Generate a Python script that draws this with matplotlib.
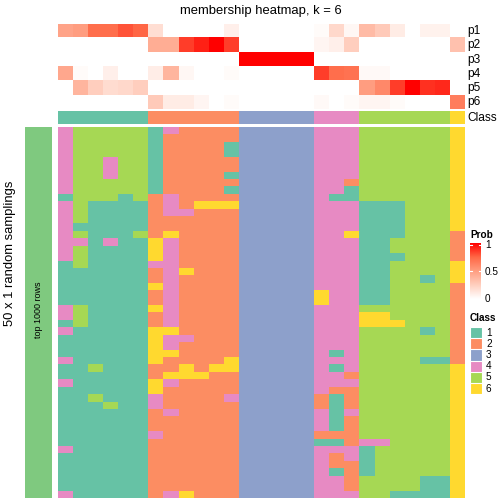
import numpy as np
import matplotlib
matplotlib.use("Agg")
import matplotlib.pyplot as plt
from matplotlib.colors import ListedColormap, LinearSegmentedColormap

plt.rcParams['font.family'] = ['Liberation Sans', 'DejaVu Sans']

# class of each sample (column) from the consensus
sample_class = [1, 1, 1, 1, 1, 1, 2, 2, 2, 2, 2, 2, 3, 3, 3, 3, 3, 4, 4, 4, 5, 5, 5, 5, 5, 5, 6]

# membership probabilities, one list per class
p1 = [0.47, 0.5, 0.72, 0.72, 0.8, 0.75, 0.17, 0, 0, 0, 0, 0.08, 0, 0, 0, 0, 0, 0.02, 0.2, 0.04, 0.35, 0.27, 0.1, 0, 0.07, 0.07, 0]
p2 = [0, 0, 0, 0, 0, 0, 0.42, 0.42, 0.85, 0.92, 1.0, 0.85, 0, 0, 0, 0, 0, 0.05, 0.08, 0.25, 0, 0, 0, 0, 0, 0, 0.32]
p3 = [0, 0, 0, 0, 0, 0, 0, 0, 0, 0, 0, 0, 1, 1, 1, 1, 1, 0, 0, 0, 0, 0, 0, 0, 0, 0, 0]
p4 = [0.45, 0.02, 0, 0.08, 0, 0, 0.09, 0.38, 0.04, 0, 0, 0.02, 0, 0, 0, 0, 0, 0.85, 0.72, 0.7, 0.03, 0.03, 0, 0, 0, 0, 0]
p5 = [0, 0.38, 0.25, 0.18, 0.2, 0.25, 0, 0, 0, 0, 0, 0, 0, 0, 0, 0, 0, 0, 0, 0, 0.5, 0.6, 0.85, 1.0, 0.88, 0.9, 0]
p6 = [0, 0, 0, 0, 0, 0, 0.27, 0.1, 0.1, 0.05, 0, 0.02, 0, 0, 0, 0, 0, 0.03, 0, 0.02, 0.05, 0.05, 0.02, 0, 0, 0, 0.65]
prob_names = ["p1", "p2", "p3", "p4", "p5", "p6"]

# class assigned in each of the 50 random samplings (one string per sampling)
samplings = [
    "455555142222333334445555556",
    "455555122222333334445555556",
    "455555122221333334445555556",
    "455555122221333334445555556",
    "455455122222333334445555556",
    "455455122222333334445555556",
    "455455122221333334445555556",
    "455555122222333334425555556",
    "455555122221333334415555556",
    "155515242222333334115555556",
    "451111242666333334441115556",
    "451111244222333334441115556",
    "451111222222333334441115556",
    "411111222222333334441115556",
    "451115262222333334461115552",
    "441411642222333334441155552",
    "451111642222333334441155552",
    "451111642222333334441115552",
    "151111442222333334441155556",
    "111111246222333334441155556",
    "111111242222333334441155156",
    "111111642222333334441155552",
    "111111242222333336441155552",
    "111111242222333336441155552",
    "451111642222333334445555552",
    "451111242222333334446655552",
    "151111242222333334446665552",
    "411111662222333334445555152",
    "111111644222333334445555552",
    "111111642222333334445555552",
    "111111662222333334145555552",
    "411111622226333334445555112",
    "115111226266333334145555556",
    "111111266622333334425555556",
    "411111642222333334445555556",
    "111111622222333334225555556",
    "115111422224333332125555556",
    "111511422222333332125555556",
    "111111242222333334145555556",
    "111111222222333334125555556",
    "111111222222333334125555556",
    "111111422222333332225555556",
    "111111222222333331124455556",
    "411111222222333334441555556",
    "111111222222333334241555556",
    "111111222222333334221555556",
    "111111222222333334121555556",
    "111111222222333334425555116",
    "111111222222333334425555116",
    "411111246222333334445511116",
]

class_colors = ["#66C2A5", "#FC8D62", "#8DA0CB", "#E78AC3", "#A6D854", "#FFD92F"]
class_cmap = ListedColormap(class_colors)
prob_cmap = LinearSegmentedColormap.from_list(
    "prob", [(0, "#FFFFFF"), (0.25, "#FFCFBF"), (0.5, "#FF9E81"), (0.75, "#FF6846"), (1, "#FF0000")])

W, H = 504, 504
fig = plt.figure(figsize=(W / 100, H / 100), dpi=100)


def px_axes(x0, y0, x1, y1):
    ax = fig.add_axes([x0 / W, 1 - y1 / H, (x1 - x0) / W, (y1 - y0) / H])
    ax.set_axis_off()
    return ax


def px_text(x, y, s, **kw):
    fig.text(x / W, 1 - y / H, s, **kw)


mat = np.array([[int(c) for c in r] for r in samplings])
prob = np.array([p1, p2, p3, p4, p5, p6])

left, right = 58, 464

# membership heatmap on top
ax = px_axes(left, 24, right, 109.5)
ax.imshow(prob, cmap=prob_cmap, vmin=0, vmax=1, aspect="auto", interpolation="nearest")
ax = px_axes(left, 110.5, right, 124.5)
ax.imshow(np.array(sample_class)[None, :], cmap=class_cmap, vmin=0.5, vmax=6.5,
          aspect="auto", interpolation="nearest")

# main heatmap of the samplings
ax = px_axes(left, 127, right, 498)
ax.imshow(mat, cmap=class_cmap, vmin=0.5, vmax=6.5, aspect="auto", interpolation="nearest")

# row split bar on the left
ax = px_axes(25, 127, 52, 498)
ax.add_patch(plt.Rectangle((0, 0), 1, 1, color="#7FC97F"))
ax.set_xlim(0, 1)
ax.set_ylim(0, 1)
px_text(38.5, 310, "top 1000 rows", rotation=90, ha="center", va="center", fontsize=6.5)
px_text(10, 253, "50 x 1 random samplings", rotation=90, ha="center", va="center", fontsize=9.4)

# title and annotation names
px_text((left + right) / 2, 11, "membership heatmap, k = 6", ha="center", va="center", fontsize=9.4)
row_h = (109.5 - 24) / 6
for i, name in enumerate(prob_names):
    px_text(467, 24 + row_h * (i + 0.5), name, ha="left", va="center", fontsize=8.6)
px_text(467, 117.5, "Class", ha="left", va="center", fontsize=8.6)

# legend: Prob
px_text(470, 235, "Prob", ha="left", va="center", fontsize=7.2, fontweight="bold")
ax = px_axes(470, 243, 481, 299)
ax.imshow(np.linspace(1, 0, 200)[:, None], cmap=prob_cmap, vmin=0, vmax=1,
          aspect="auto", extent=(0, 1, 0, 1))
ax.set_xlim(0, 1)
ax.set_ylim(0, 1)
for v in [0.5, 0.97]:
    ax.plot([0, 0.2], [v, v], color="white", lw=0.8)
    ax.plot([0.8, 1], [v, v], color="white", lw=0.8)
px_text(485, 245, "1", ha="left", va="center", fontsize=7.2)
px_text(485, 272, "0.5", ha="left", va="center", fontsize=7.2)
px_text(485, 299, "0", ha="left", va="center", fontsize=7.2)

# legend: Class
px_text(470, 318, "Class", ha="left", va="center", fontsize=7.2, fontweight="bold")
sq = 11.2
for k in range(6):
    y0 = 327 + k * sq
    ax = px_axes(470, y0, 482, y0 + sq)
    ax.add_patch(plt.Rectangle((0, 0), 1, 1, facecolor=class_colors[k], edgecolor="white", lw=0.8))
    ax.set_xlim(0, 1)
    ax.set_ylim(0, 1)
    px_text(486, y0 + sq / 2, str(k + 1), ha="left", va="center", fontsize=7.2)

fig.savefig("out.png", dpi=100)
